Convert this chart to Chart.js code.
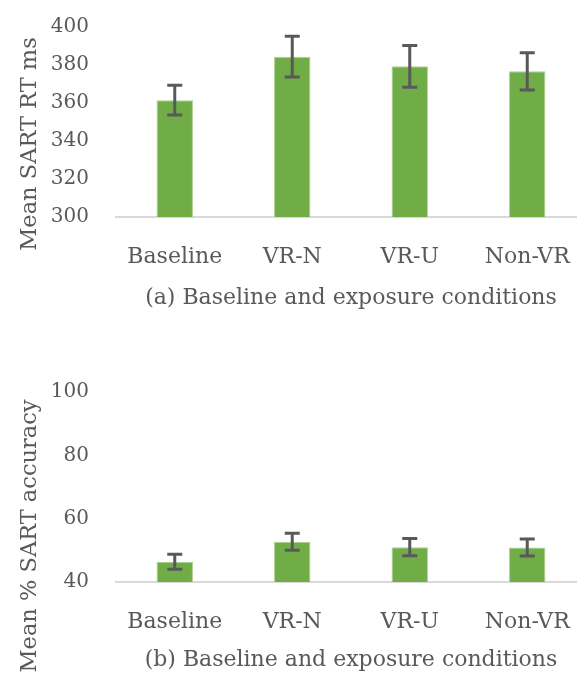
<!DOCTYPE html>
<html>
<head>
<meta charset="utf-8">
<script src="https://cdn.jsdelivr.net/npm/chart.js@4"></script>
<style>
  html, body { margin: 0; padding: 0; background: #fff; overflow: hidden; width: 577px; height: 677px; }
  .box { position: relative; width: 586px; }
</style>
</head>
<body>
<div class="box" style="height:340px"><canvas id="rtChart" width="586" height="340"></canvas></div>
<div class="box" style="height:337px"><canvas id="accChart" width="586" height="337"></canvas></div>
<script>
const conditions = ["Baseline", "VR-N", "VR-U", "Non-VR"];

// (a) mean SART reaction time, ms
const rtMeans = [361.5, 384.4, 379.3, 376.7];
const rtErrors = [7.8, 10.7, 11.0, 9.8];
const rtTicks = [300, 320, 340, 360, 380, 400];

// (b) mean % SART accuracy
const accMeans = [46.4, 52.7, 51.0, 50.9];
const accErrors = [2.4, 2.7, 2.7, 2.7];
const accTicks = [40, 60, 80, 100];

const textColor = "#595959";
const fontName = "'DejaVu Serif', serif";

// error bars drawn on top of the bars
const errorBars = {
  id: "errorBars",
  afterDatasetsDraw(chart, args, opts) {
    const ctx = chart.ctx;
    const meta = chart.getDatasetMeta(0);
    const y = chart.scales.y;
    const vals = chart.data.datasets[0].data;
    ctx.save();
    ctx.strokeStyle = "#595959";
    ctx.lineWidth = 3;
    meta.data.forEach((bar, i) => {
      const top = y.getPixelForValue(vals[i] + opts.errors[i]);
      const bot = y.getPixelForValue(vals[i] - opts.errors[i]);
      ctx.beginPath();
      ctx.moveTo(bar.x, top);
      ctx.lineTo(bar.x, bot);
      ctx.moveTo(bar.x - 7.5, top);
      ctx.lineTo(bar.x + 7.5, top);
      ctx.moveTo(bar.x - 7.5, bot);
      ctx.lineTo(bar.x + 7.5, bot);
      ctx.stroke();
    });
    ctx.restore();
  },
};

// rotated y axis title, placed like the original
const sideTitle = {
  id: "sideTitle",
  afterDraw(chart, args, opts) {
    const ctx = chart.ctx;
    ctx.save();
    ctx.translate(opts.x, opts.y);
    ctx.rotate(-Math.PI / 2);
    ctx.font = "22.5px " + fontName;
    ctx.fillStyle = textColor;
    ctx.textAlign = "center";
    ctx.textBaseline = "middle";
    ctx.fillText(opts.text, 0, 0);
    ctx.restore();
  },
};

function makeChart(id, means, errors, ticks, yTitle, xTitle, padTop, xHeight, titlePad, titleY) {
  return new Chart(document.getElementById(id), {
    type: "bar",
    data: {
      labels: conditions,
      datasets: [
        {
          data: means,
          backgroundColor: "#70ad47",
          borderColor: "#a9d18e",
          borderWidth: 1,
          categoryPercentage: 1,
          barPercentage: 0.31,
        },
      ],
    },
    options: {
      responsive: false,
      animation: false,
      layout: { padding: { top: padTop, left: 0, right: 0, bottom: 0 } },
      plugins: {
        legend: { display: false },
        tooltip: { enabled: false },
        errorBars: { errors: errors },
        sideTitle: { text: yTitle, x: 30, y: titleY },
      },
      scales: {
        x: {
          grid: { display: false, drawTicks: false },
          border: { display: true, color: "#d9d9d9", width: 2 },
          ticks: { color: textColor, font: { family: fontName, size: 22 }, padding: 27, maxRotation: 0 },
          title: {
            display: true,
            text: xTitle,
            color: textColor,
            font: { family: fontName, size: 22 },
            padding: { top: 0, bottom: titlePad },
          },
          afterFit(scale) {
            scale.height = xHeight;
            scale.paddingLeft = 0;
            scale.paddingRight = 0;
          },
        },
        y: {
          min: ticks[0],
          max: ticks[ticks.length - 1],
          grid: { display: false, drawTicks: false },
          border: { display: false },
          afterBuildTicks(scale) {
            scale.ticks = ticks.map((v) => ({ value: v }));
          },
          ticks: { color: textColor, font: { family: fontName, size: 20 }, padding: 27 },
          afterFit(scale) {
            scale.width = 116;
            scale.paddingTop = 0;
            scale.paddingBottom = 0;
          },
        },
      },
    },
    plugins: [errorBars, sideTitle],
  });
}

makeChart("rtChart", rtMeans, rtErrors, rtTicks, "Mean SART RT ms", "(a) Baseline and exposure conditions", 27, 123, 29, 144);
makeChart("accChart", accMeans, accErrors, accTicks, "Mean % SART accuracy", "(b) Baseline and exposure conditions", 52, 95, 4, 196);
</script>
</body>
</html>
